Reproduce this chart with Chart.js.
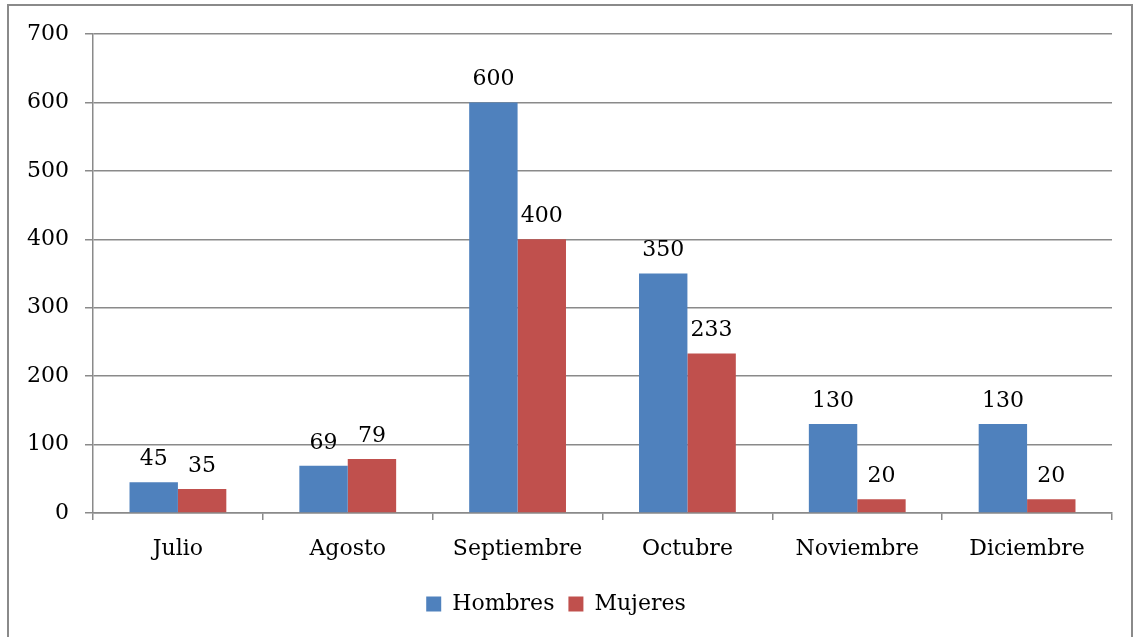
<!DOCTYPE html>
<html>
<head>
<meta charset="utf-8">
<script src="https://cdn.jsdelivr.net/npm/chart.js@4"></script>
<style>
  html, body { margin: 0; padding: 0; background: #fff; overflow: hidden; }
  #frame {
    position: absolute; left: 7px; top: 4px; width: 1122px; height: 700px;
    border: 2px solid #8a8a8a;
  }
  #wrap { position: absolute; left: 0; top: 0; width: 1133px; height: 637px; }
</style>
</head>
<body>
<div id="frame"></div>
<div id="wrap"><canvas id="chart"></canvas></div>
<script>
// Chart data
const months = ['Julio', 'Agosto', 'Septiembre', 'Octubre', 'Noviembre', 'Diciembre'];
const hombres = [45, 69, 600, 350, 130, 130];
const mujeres = [35, 79, 400, 233, 20, 20];
const yTicks = [0, 100, 200, 300, 400, 500, 600, 700];

const FONT = 'DejaVu Serif';
const AXIS_COLOR = '#8a8a8a';

// Draw value labels above each bar
const barLabels = {
    id: 'barLabels',
    afterDatasetsDraw(chart) {
        const ctx = chart.ctx;
        ctx.save();
        ctx.font = '22px "' + FONT + '"';
        ctx.fillStyle = '#000';
        ctx.textAlign = 'center';
        ctx.textBaseline = 'bottom';
        chart.data.datasets.forEach((ds, i) => {
            chart.getDatasetMeta(i).data.forEach((bar, j) => {
                ctx.fillText(String(ds.data[j]), bar.x, bar.y - 12);
            });
        });
        ctx.restore();
    }
};

new Chart(document.getElementById('chart'), {
    type: 'bar',
    data: {
        labels: months,
        datasets: [
            { label: 'Hombres', data: hombres, backgroundColor: '#4F81BD' },
            { label: 'Mujeres', data: mujeres, backgroundColor: '#C0504D' }
        ]
    },
    options: {
        responsive: true,
        maintainAspectRatio: false,
        animation: false,
        layout: { padding: { top: 34, right: 21, left: 0, bottom: 12 } },
        categoryPercentage: 0.57,
        barPercentage: 1.0,
        plugins: {
            tooltip: { enabled: false },
            legend: {
                position: 'bottom',
                labels: {
                    color: '#000',
                    font: { family: FONT, size: 22 },
                    boxWidth: 15,
                    boxHeight: 15,
                    padding: 14
                }
            }
        },
        scales: {
            x: {
                grid: {
                    drawOnChartArea: false,
                    color: AXIS_COLOR,
                    lineWidth: 1.5,
                    tickLength: 7
                },
                border: { color: AXIS_COLOR, width: 1.5 },
                ticks: {
                    color: '#000',
                    font: { family: FONT, size: 22 },
                    padding: 16,
                    maxRotation: 0
                },
                afterFit(scale) { scale.height = 66; }
            },
            y: {
                min: 0,
                max: 700,
                afterBuildTicks(scale) {
                    scale.ticks = yTicks.map(v => ({ value: v }));
                },
                grid: {
                    color: AXIS_COLOR,
                    lineWidth: 1.5,
                    tickLength: 8
                },
                border: { color: AXIS_COLOR, width: 1.5 },
                ticks: {
                    color: '#000',
                    font: { family: FONT, size: 22 },
                    padding: 16
                },
                afterFit(scale) { scale.width = 93; }
            }
        }
    },
    plugins: [barLabels]
});
</script>
</body>
</html>
